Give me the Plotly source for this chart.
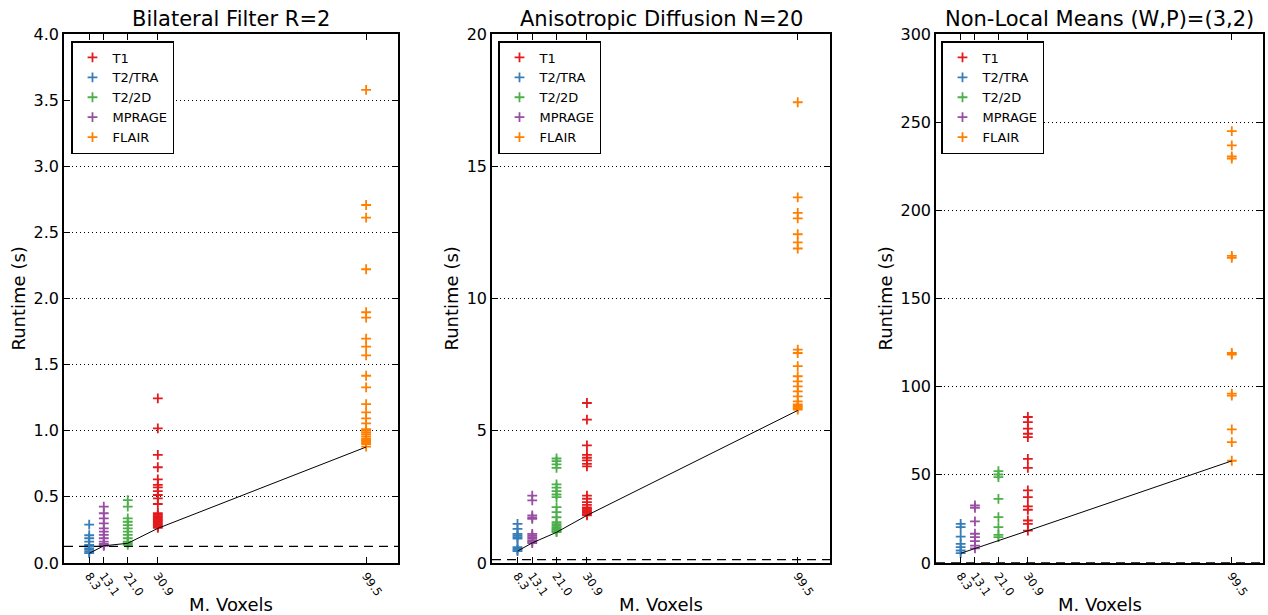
import plotly.graph_objects as go

# ---------------- data ----------------
series_names = ["T1", "T2/TRA", "T2/2D", "MPRAGE", "FLAIR"]
series_colors = ["#e41a1c", "#377eb8", "#4daf4a", "#984ea3", "#ff7f00"]
voxels = [30.9, 8.3, 21.0, 13.1, 99.5]          # M. voxels of each series
tick_vals = [8.3, 13.1, 21.0, 30.9, 99.5]
tick_text = ["8.3", "13.1", "21.0", "30.9", "99.5"]

titles = ["Bilateral Filter R=2", "Anisotropic Diffusion N=20", "Non-Local Means (W,P)=(3,2)"]

# Bilateral filter runtimes (s)
bf_t1 = [1.245, 1.018, 0.817, 0.724, 0.633, 0.590, 0.572, 0.544, 0.514, 0.489, 0.446,
         0.376, 0.365, 0.355, 0.345, 0.335, 0.325, 0.315, 0.305, 0.295, 0.285, 0.275, 0.265]
bf_tra = [0.29, 0.21, 0.187, 0.161, 0.136, 0.125, 0.111, 0.10, 0.085, 0.075]
bf_2d = [0.476, 0.426, 0.338, 0.312, 0.287, 0.262, 0.237, 0.212, 0.187, 0.161, 0.15, 0.138]
bf_mprage = [0.426, 0.376, 0.338, 0.30, 0.262, 0.237, 0.212, 0.187, 0.161, 0.145, 0.136, 0.13]
bf_flair = [3.577, 2.707, 2.611, 2.221, 1.896, 1.855, 1.696, 1.636, 1.570, 1.416, 1.328,
            1.202, 1.139, 1.094, 1.056, 1.013, 1.0, 0.985, 0.97, 0.955, 0.94, 0.93,
            0.92, 0.91, 0.90, 0.88]
bf_trend = [0.073, 0.13, 0.149, 0.262, 0.877]

# Anisotropic diffusion runtimes (s)
ad_t1 = [6.05, 5.42, 4.45, 4.09, 3.98, 3.88, 3.75, 3.65, 2.55, 2.43, 2.30, 2.2, 2.1,
         2.05, 2.0, 1.95, 1.9, 1.85, 1.80]
ad_tra = [1.48, 1.29, 1.10, 1.04, 0.98, 0.92, 0.60, 0.54, 0.50, 0.45]
ad_2d = [3.95, 3.85, 3.73, 3.60, 2.97, 2.85, 2.72, 2.59, 2.49, 2.11, 1.92, 1.73, 1.54,
         1.47, 1.40, 1.35, 1.30, 1.25, 1.20, 1.17]
ad_mprage = [2.55, 2.37, 1.80, 1.72, 1.67, 1.10, 1.04, 0.98, 0.92, 0.85, 0.80, 0.75]
ad_flair = [17.42, 13.82, 13.24, 13.03, 12.43, 12.12, 11.89, 8.07, 7.94, 7.44, 7.06,
            6.87, 6.68, 6.49, 6.30, 6.11, 6.0, 5.95, 5.9, 5.85, 5.8]
ad_trend = [0.45, 0.76, 1.16, 1.80, 5.77]

# Non-local means runtimes (s)
nl_t1 = [82.8, 79.9, 76.2, 73.3, 71.4, 59.1, 54.0, 41.2, 37.4, 32.1, 30.2, 24.1, 22.2, 18.4]
nl_tra = [22.2, 20.3, 15.0, 10.9, 9.0, 7.1, 5.6]
nl_2d = [52.1, 50.2, 48.7, 36.4, 26.0, 20.3, 16.0, 14.7]
nl_mprage = [32.6, 31.3, 23.6, 16.6, 14.7, 12.4, 9.9, 8.3]
nl_flair = [244.9, 236.8, 230.6, 229.4, 174.2, 173.0, 119.1, 118.2, 96.0, 94.9, 75.8, 68.6, 58.0]
nl_trend = [5.5, 8.3, 12.5, 18.3, 57.9]

baseline = [0.125, 0.125, 0.125]   # dashed reference runtime
x_range = [0, 110]
y_ranges = [[0, 4], [0, 20], [0, 300]]
y_dticks = [0.5, 5, 50]
y_formats = [".1f", "d", "d"]

panels = [
    [bf_t1, bf_tra, bf_2d, bf_mprage, bf_flair],
    [ad_t1, ad_tra, ad_2d, ad_mprage, ad_flair],
    [nl_t1, nl_tra, nl_2d, nl_mprage, nl_flair],
]
trends = [bf_trend, ad_trend, nl_trend]

# ---------------- layout geometry ----------------
W, H = 1268, 615
plot_top, plot_bottom = 34, 563
plot_h = plot_bottom - plot_top
x_domains_px = [(64, 398), (492, 830), (936, 1263)]
legend_left_px = [71, 498, 941]
ylabel_x_px = [18, 451, 885]
xlabel_y_px = 604
FONT = "DejaVu Sans"

fig = go.Figure()
legend_keys = ["legend", "legend2", "legend3"]

for p in range(3):
    xa = "x" if p == 0 else f"x{p+1}"
    ya = "y" if p == 0 else f"y{p+1}"
    for s in range(5):
        vals = panels[p][s]
        fig.add_trace(go.Scatter(
            x=[voxels[s]] * len(vals), y=vals, mode="markers",
            name=series_names[s], xaxis=xa, yaxis=ya, legend=legend_keys[p],
            marker=dict(symbol="cross-thin", size=7, color=series_colors[s],
                        line=dict(width=1.8, color=series_colors[s])),
        ))
    fig.add_trace(go.Scatter(
        x=tick_vals, y=trends[p], mode="lines", xaxis=xa, yaxis=ya,
        line=dict(color="black", width=1), showlegend=False))
    fig.add_trace(go.Scatter(
        x=x_range, y=[baseline[p]] * 2, mode="lines", xaxis=xa, yaxis=ya,
        line=dict(color="black", width=1.3, dash="9px,6px"), showlegend=False))

layout = dict(
    width=W, height=H, paper_bgcolor="white", plot_bgcolor="white",
    margin=dict(l=0, r=0, t=plot_top, b=H - plot_bottom, pad=0),
    font=dict(family=FONT, color="black"),
    showlegend=True,
)
annotations = []
for p in range(3):
    sfx = "" if p == 0 else str(p + 1)
    x0, x1 = x_domains_px[p]
    layout["xaxis" + sfx] = dict(
        domain=[x0 / W, x1 / W], range=x_range, anchor="y" + sfx,
        tickmode="array", tickvals=tick_vals, ticktext=tick_text, tickangle=55,
        tickfont=dict(size=11.5, family=FONT), ticks="inside", ticklen=6, tickwidth=1,
        tickcolor="black", showline=True, linecolor="black", linewidth=1.5,
        mirror="ticks", showgrid=False, zeroline=False,
    )
    layout["yaxis" + sfx] = dict(
        domain=[0, 1], range=y_ranges[p], anchor="x" + sfx,
        dtick=y_dticks[p], tick0=0, tickformat=y_formats[p],
        tickfont=dict(size=16, family=FONT), ticks="inside", ticklen=6, tickwidth=1,
        tickcolor="black", showline=True, linecolor="black", linewidth=1.5,
        mirror="ticks", showgrid=True, gridcolor="black", gridwidth=1,
        griddash="1px,3px", zeroline=False,
    )
    annotations.append(dict(
        text="Runtime (s)", xref="paper", yref="paper", x=ylabel_x_px[p] / W, y=0.5,
        xanchor="center", yanchor="middle", textangle=-90, showarrow=False,
        font=dict(size=18, family=FONT)))
    annotations.append(dict(
        text="M. Voxels", xref="paper", yref="paper", x=(x0 + x1) / 2 / W,
        y=(plot_bottom - xlabel_y_px) / plot_h,
        xanchor="center", yanchor="middle", showarrow=False,
        font=dict(size=18, family=FONT)))
    annotations.append(dict(
        text=titles[p], xref="paper", yref="paper", x=(x0 + x1) / 2 / W, y=1,
        xanchor="center", yanchor="bottom", yshift=1, showarrow=False,
        font=dict(size=21, family=FONT)))
    layout[legend_keys[p]] = dict(
        x=legend_left_px[p] / W, y=1 - 7 / plot_h,
        xanchor="left", yanchor="top", bgcolor="white", bordercolor="black",
        borderwidth=1.5, font=dict(size=13, family=FONT), tracegroupgap=0,
    )
layout["annotations"] = annotations
fig.update_layout(**layout)

fig.write_html("out.html", config={"displayModeBar": False},
               post_script="document.body.style.margin='0';")
